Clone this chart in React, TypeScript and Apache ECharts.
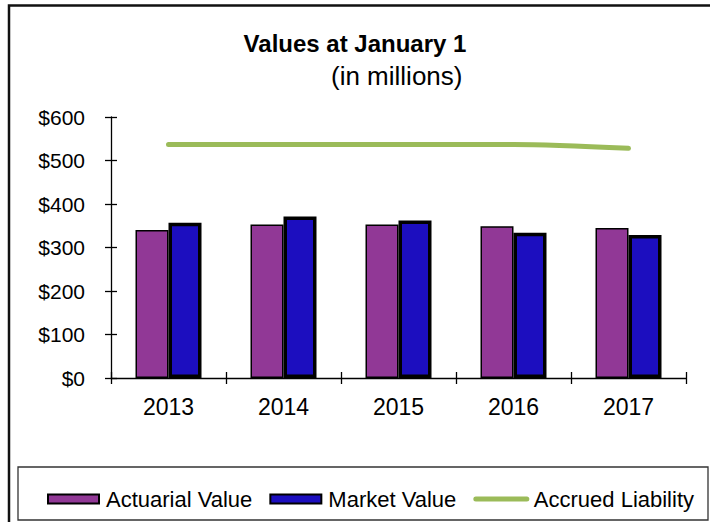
import React, { useEffect, useRef } from "react";
import * as echarts from "echarts";

const years = ["2013", "2014", "2015", "2016", "2017"];
const actuarialValue = [340, 353, 353, 349, 345];
const marketValue = [357, 371, 362, 334, 329];
const accruedLiability = [537, 537, 537, 537, 528];

const FONT = "Arial, 'Liberation Sans', sans-serif";

export default function App() {
  const ref = useRef<HTMLDivElement>(null);
  useEffect(() => {
    if (!ref.current) return;
    const chart = echarts.init(ref.current, null, { renderer: "svg" });
    const tickStyle = { color: "#000", width: 1.3 };
    chart.setOption({
      animation: false,
      backgroundColor: "#fff",
      title: [
        {
          text: "Values at January 1",
          left: "center",
          top: 26,
          textStyle: { fontFamily: FONT, fontSize: 24, fontWeight: "bold", color: "#000" },
        },
        {
          text: "(in millions)",
          left: 326,
          top: 58,
          textStyle: { fontFamily: FONT, fontSize: 26, fontWeight: "normal", color: "#000" },
        },
      ],
      grid: { left: 111, right: 24, top: 117, bottom: 144 },
      xAxis: [
        {
          type: "category",
          data: years,
          boundaryGap: true,
          axisLine: { lineStyle: { color: "#000", width: 1.3 } },
          axisTick: { show: true, length: 6, lineStyle: tickStyle },
          axisLabel: { fontFamily: FONT, fontSize: 23, color: "#000", margin: 17 },
        },
        {
          type: "category",
          data: years,
          position: "bottom",
          boundaryGap: true,
          axisLine: { show: false },
          axisTick: { show: true, inside: true, length: 6, lineStyle: tickStyle },
          axisLabel: { show: false },
        },
      ],
      yAxis: [
        {
          type: "value",
          min: 0,
          max: 600,
          interval: 100,
          axisLine: { show: true, lineStyle: { color: "#000", width: 1.3 } },
          axisTick: { show: true, length: 6, lineStyle: tickStyle },
          splitLine: { show: false },
          axisLabel: {
            fontFamily: FONT,
            fontSize: 21,
            color: "#000",
            margin: 26,
            formatter: (v: number) => "$" + v,
          },
        },
        {
          type: "value",
          min: 0,
          max: 600,
          interval: 100,
          position: "left",
          axisLine: { show: false },
          axisTick: { show: true, inside: true, length: 6, lineStyle: tickStyle },
          splitLine: { show: false },
          axisLabel: { show: false },
        },
      ],
      legend: {
        left: 42,
        top: 483,
        itemWidth: 51,
        itemHeight: 9,
        itemGap: 17,
        textStyle: { fontFamily: FONT, fontSize: 22, color: "#000", padding: [0, 0, 0, 2] },
        data: [
          { name: "Actuarial Value", icon: "rect" },
          { name: "Market Value", icon: "rect" },
          {
            name: "Accrued Liability",
            itemStyle: { color: "transparent", borderColor: "transparent", borderWidth: 0 },
            lineStyle: { width: 5, cap: "round", color: "#9BBB59" },
          },
        ],
      },
      graphic: [
        {
          type: "rect",
          shape: { x: 18, y: 467, width: 690, height: 53 },
          style: { fill: "none", stroke: "#333", lineWidth: 1.3 },
          z: 0,
        },
        {
          type: "polyline",
          shape: { points: [[9, 540], [9, 5.5], [720, 5.5]] },
          style: { fill: "none", stroke: "#111", lineWidth: 2.5 },
        },
      ],
      series: [
        {
          name: "Actuarial Value",
          type: "bar",
          data: actuarialValue,
          barWidth: 33,
          barGap: "0%",
          itemStyle: { color: "#913896", borderColor: "#000", borderWidth: 1.5 },
        },
        {
          name: "Market Value",
          type: "bar",
          data: marketValue,
          barWidth: 33,
          barGap: "0%",
          itemStyle: { color: "#1C0EBF", borderColor: "#000", borderWidth: 3.5 },
        },
        {
          name: "Accrued Liability",
          type: "line",
          data: accruedLiability,
          smooth: 0.3,
          symbol: "none",
          lineStyle: { color: "#9BBB59", width: 5, cap: "round" },
          itemStyle: { color: "#9BBB59" },
          z: 5,
        },
      ],
    });
    return () => chart.dispose();
  }, []);
  return (
    <div
      ref={ref}
      style={{ position: "absolute", left: 0, top: 0, width: 710, height: 522 }}
    />
  );
}
